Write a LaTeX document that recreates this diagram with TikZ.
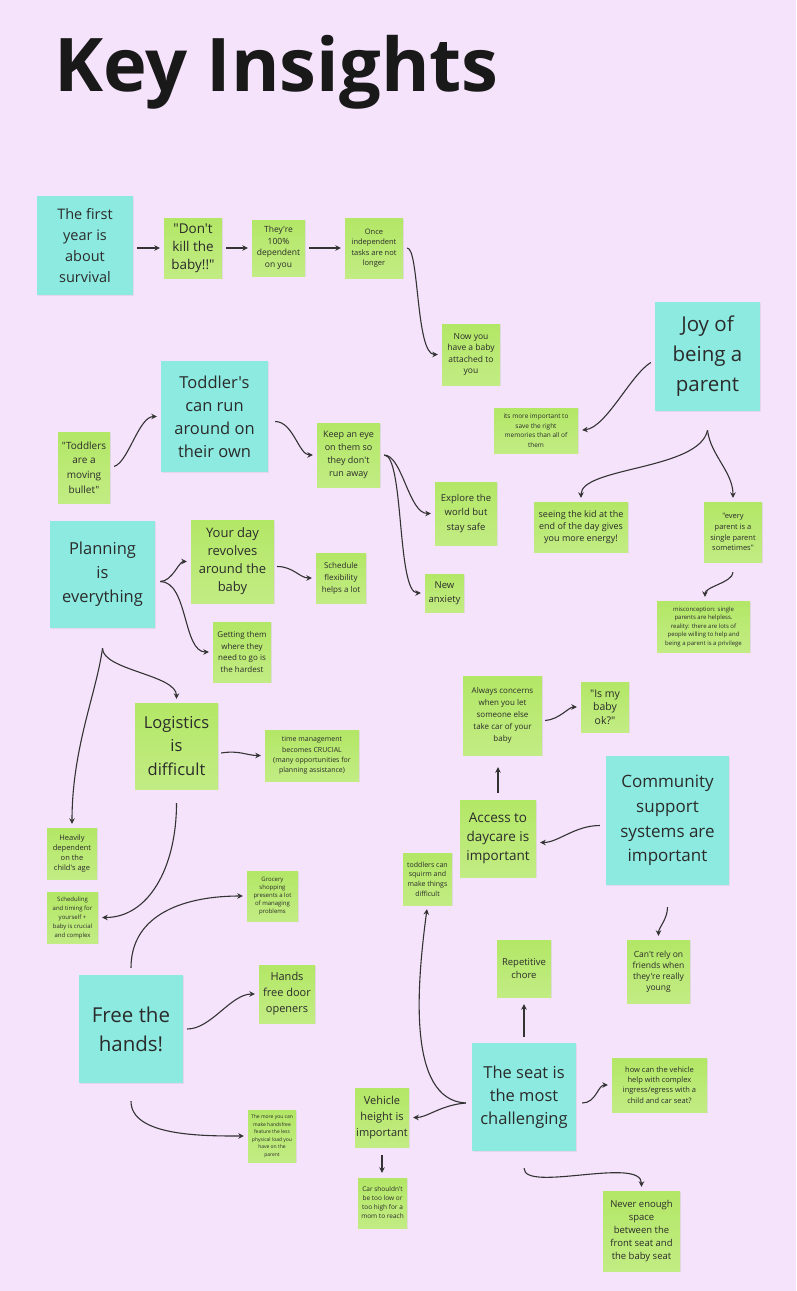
\documentclass[tikz,border=0pt]{standalone}
\usepackage{fontspec}
\setmainfont{Open Sans}[Ligatures=TeXOff]
\usetikzlibrary{arrows.meta,calc,shadows}
\definecolor{bg}{HTML}{F5E3FC}
\definecolor{cy}{HTML}{8DEAE0}
\definecolor{gtop}{HTML}{B3E766}
\definecolor{gbot}{HTML}{C2EC84}
\definecolor{txt}{HTML}{2B2B2B}
\definecolor{ln}{HTML}{333333}
\newcommand\myfs[2]{\fontsize{#1}{#2}\selectfont}
\tikzset{
  note/.style={inner sep=0pt, align=center, text=txt,
    drop shadow={opacity=0.12, shadow xshift=0.8pt, shadow yshift=-1.2pt}},
  sz/.style n args={2}{minimum width=#1pt, minimum height=#2pt},
  cnote/.style={note, fill=cy},
  gnote/.style={note, top color=gtop, bottom color=gbot},
  con/.style={draw=ln, line width=1.1pt, -{Stealth[length=5.5pt,width=5.5pt]},
    shorten >=4pt, shorten <=4pt},
  conc/.style={con, shorten <=0pt},
}
\begin{document}
\begin{tikzpicture}[x=1pt,y=-1pt]
\fill[bg] (0,0) rectangle (796,1291);
\useasboundingbox (0,0) rectangle (796,1291);
\node[anchor=base west, inner sep=0pt, text=black!90, font=\bfseries\myfs{74}{78}] (title) at (54,91) {Key Insights};

% row 1
\node[cnote, sz={96}{99}, font=\myfs{14.5}{21}] (n1) at (85,245.5) {The first\\year is\\about\\survival};
\node[gnote, sz={58}{60}, font=\myfs{13.5}{18}] (n2) at (193,248) {"Don't\\kill the\\baby!!"};
\node[gnote, sz={53}{56}, font=\myfs{8.5}{11.5}] (n3) at (278.5,248) {They're\\100\%\\dependent\\on you};
\node[gnote, sz={58}{60}, font=\myfs{7.5}{10.5}] (n4) at (374,248) {Once\\independent\\tasks are not\\longer};
\node[gnote, sz={58}{61}, font=\myfs{8.5}{11.5}] (n5) at (471,354.5) {Now you\\have a baby\\attached to\\you};

% joy
\node[cnote, sz={105}{109}, font=\myfs{20.5}{30}] (n6) at (707.5,356.5) {Joy of\\being a\\parent};
\node[gnote, sz={84}{45}, font=\myfs{6.5}{9.5}] (n7) at (536,430.5) {its more important to\\save the right\\memories than all of\\them};
\node[gnote, sz={94}{50}, font=\myfs{9}{12}] (n8) at (581,527) {seeing the kid at the\\end of the day gives\\you more energy!};
\node[gnote, sz={58}{60}, font=\myfs{7.5}{10.8}] (n9) at (733,532) {"every\\parent is a\\single parent\\sometimes"};
\node[gnote, sz={93}{51}, font=\myfs{6}{8.5}] (n10) at (703.5,626.5) {misconception: single\\parents are helpless.\\reality: there are lots of\\people willing to help and\\being a parent is a privilege};

% toddlers
\node[cnote, sz={107}{111}, font=\myfs{16.5}{23}] (n11) at (214.5,416.5) {Toddler's\\can run\\around on\\their own};
\node[gnote, sz={52}{71}, font=\myfs{10}{14.7}] (n12) at (84,467.5) {"Toddlers\\are a\\moving\\bullet"};
\node[gnote, sz={63}{64}, font=\myfs{9}{13}] (n13) at (348.5,455) {Keep an eye\\on them so\\they don't\\run away};
\node[gnote, sz={62}{63}, font=\myfs{9.5}{14.5}] (n14) at (466,513.5) {Explore the\\world but\\stay safe};
\node[gnote, sz={39}{38}, font=\myfs{9.5}{14.5}] (n15) at (444.5,593) {New\\anxiety};

% planning
\node[cnote, sz={105}{107}, font=\myfs{16.5}{24}] (n16) at (102.5,574.5) {Planning\\is\\everything};
\node[gnote, sz={83}{83}, font=\myfs{13}{18}] (n17) at (232.5,561.5) {Your day\\revolves\\around the\\baby};
\node[gnote, sz={50}{50}, font=\myfs{8}{12}] (n18) at (341,578) {Schedule\\flexibility\\helps a lot};
\node[gnote, sz={58}{60}, font=\myfs{8}{11.5}] (n19) at (242,652) {Getting them\\where they\\need to go is\\the hardest};
\node[gnote, sz={83}{86}, font=\myfs{16.5}{23.5}] (n20) at (176.5,746) {Logistics\\is\\difficult};
\node[gnote, sz={50}{51}, font=\myfs{7.5}{10}] (n21) at (72,853.5) {Heavily\\dependent\\on the\\child's age};
\node[gnote, sz={94}{51}, font=\myfs{7}{10.3}] (n22) at (312,755.5) {time management\\becomes CRUCIAL\\(many opportunities for\\planning assistance)};
\node[gnote, sz={51}{51}, font=\myfs{6}{9}] (n23) at (72.5,917.5) {Scheduling\\and timing for\\yourself +\\baby is crucial\\and complex};

% free the hands
\node[cnote, sz={104}{108}, font=\myfs{20.5}{29}] (n24) at (131,1029) {Free the\\hands!};
\node[gnote, sz={51}{50}, font=\myfs{6}{8}] (n25) at (272.5,896) {Grocery\\shopping\\presents a lot\\of managing\\problems};
\node[gnote, sz={56}{58}, font=\myfs{11}{16}] (n26) at (287,994) {Hands\\free door\\openers};
\node[gnote, sz={48}{52}, font=\myfs{5}{7.5}] (n27) at (272,1136) {The more you can\\make handsfree\\feature the less\\physical load you\\have on the\\parent};

% community
\node[gnote, sz={79}{79}, font=\myfs{8}{12}] (n28) at (502.5,715.5) {Always concerns\\when you let\\someone else\\take car of your\\baby};
\node[gnote, sz={48}{50}, font=\myfs{10.5}{13.5}] (n29) at (605,707) {"Is my\\baby\\ok?"};
\node[cnote, sz={123}{129}, font=\myfs{17}{24.7}] (n30) at (667.5,820.5) {Community\\support\\systems are\\important};
\node[gnote, sz={76}{77}, font=\myfs{13.5}{19}] (n31) at (498,838.5) {Access to\\daycare is\\important};
\node[gnote, sz={63}{63}, font=\myfs{8.5}{11}] (n32) at (658.5,971.5) {Can't rely on\\friends when\\they're really\\young};

% seat
\node[gnote, sz={49}{52}, font=\myfs{7}{9.7}] (n33) at (427.5,879) {toddlers can\\squirm and\\make things\\difficult};
\node[gnote, sz={54}{57}, font=\myfs{9.5}{13}] (n34) at (524,968.5) {Repetitive\\chore};
\node[cnote, sz={104}{108}, font=\myfs{16.5}{23}] (n35) at (524,1097) {The seat is\\the most\\challenging};
\node[gnote, sz={54}{59}, font=\myfs{11}{16}] (n36) at (382,1117.5) {Vehicle\\height is\\important};
\node[gnote, sz={49}{50}, font=\myfs{6.5}{9}] (n37) at (382.5,1203) {Car shouldn't\\be too low or\\too high for a\\mom to reach};
\node[gnote, sz={95}{54}, font=\myfs{7.5}{10.3}] (n38) at (659.5,1085) {how can the vehicle\\help with complex\\ingress/egress with a\\child and car seat?};
\node[gnote, sz={77}{80}, font=\myfs{9.5}{13}] (n39) at (641.5,1231) {Never enough\\space\\between the\\front seat and\\the baby seat};

% split points
\coordinate (jsplit) at ($(n6.south)+(0,19)$);
\coordinate (psplit) at ($(n16.south)+(0,20)$);

% connectors
\draw[con] (n1.east |- n2.west) -- (n2.west);
\draw[con] (n2.east) -- (n3.west);
\draw[con] (n3.east) -- (n4.west);
\draw[con] (n4.east) .. controls +(16,0) and +(-26,0) .. (n5.west);

\draw[conc] ($(n6.west)+(-4,6)$) .. controls +(-20,12) and +(28,-3) .. (n7.east);
\draw[conc] (jsplit) .. controls +(-8,40) and +(0,-35) .. (n8.north);
\draw[conc] (jsplit) .. controls +(3,25) and +(0,-30) .. (n9.north);
\draw[conc] ($(n9.south)+(0,10)$) .. controls +(0,10) and +(0,-14) .. ($(n10.north)+(1.5,0)$);

\draw[con] (n12.east) .. controls +(18,-5) and +(-22,0) .. (n11.west);
\draw[conc] ($(n11.east)+(7,5)$) .. controls +(18,0) and +(-18,0) .. (n13.west);
\draw[con] (n13.east) .. controls +(22,0) and +(-26,0) .. (n14.west);
\draw[con] (n13.east) .. controls +(24,0) and +(-28,0) .. (n15.west);

\draw[conc] ($(n16.east)+(5,7)$) .. controls +(12,0) and +(-12,0) .. (n17.west);
\draw[conc] ($(n16.east)+(5,7)$) .. controls +(28,0) and +(-30,0) .. (n19.west);
\draw[conc] ($(n17.east)+(3,5)$) .. controls +(16,0) and +(-16,0) .. (n18.west);
\draw[conc] (psplit) .. controls +(0,22) and +(0,-28) .. (n20.north);
\draw[conc] (psplit) .. controls +(-6,45) and +(0,-80) .. (n21.north);
\draw[conc] ($(n20.east)+(3,7)$) .. controls +(18,-3) and +(-18,0) .. (n22.west);
\draw[conc] ($(n20.south)+(0,14)$) .. controls +(0,65) and +(50,0) .. (n23.east);

\draw[conc] ($(n24.north)+(0,-7)$) .. controls +(0,-55) and +(-60,0) .. (n25.west);
\draw[con] (n24.east) .. controls +(28,0) and +(-28,0) .. (n26.west);
\draw[conc] ($(n24.south)+(0,18)$) .. controls +(0,35) and +(-45,0) .. (n27.west);

\draw[conc] ($(n28.east)+(3,5)$) .. controls +(14,-1) and +(-12,0) .. (n29.west);
\draw[con, shorten <=7pt, shorten >=12pt] (n31.north) -- (n31.north |- n28.south);
\draw[conc] ($(n30.west)+(-6,5)$) .. controls +(-25,0) and +(22,0) .. ($(n31.east)+(0,4)$);
\draw[conc] ($(n30.south)+(0,22)$) .. controls +(0,12) and +(0,-12) .. (n32.north);

\draw[con, shorten <=6pt, shorten >=7pt] (n35.north) -- (n35.north |- n34.south);
\draw[conc] ($(n35.west)+(-6,6)$) .. controls +(-60,-3) and +(-10,75) .. (n33.south);
\draw[conc] ($(n35.west)+(-6,6)$) .. controls +(-25,2) and +(18,0) .. (n36.east);
\draw[con, shorten <=8pt, shorten >=5pt] (n36.south) -- (n36.south |- n37.north);
\draw[conc] ($(n35.east)+(6,6)$) .. controls +(14,0) and +(-14,0) .. (n38.west);
\draw[conc] ($(n35.south)+(0,17)$) .. controls +(0,25) and +(0,-35) .. (n39.north);
\end{tikzpicture}
\end{document}
